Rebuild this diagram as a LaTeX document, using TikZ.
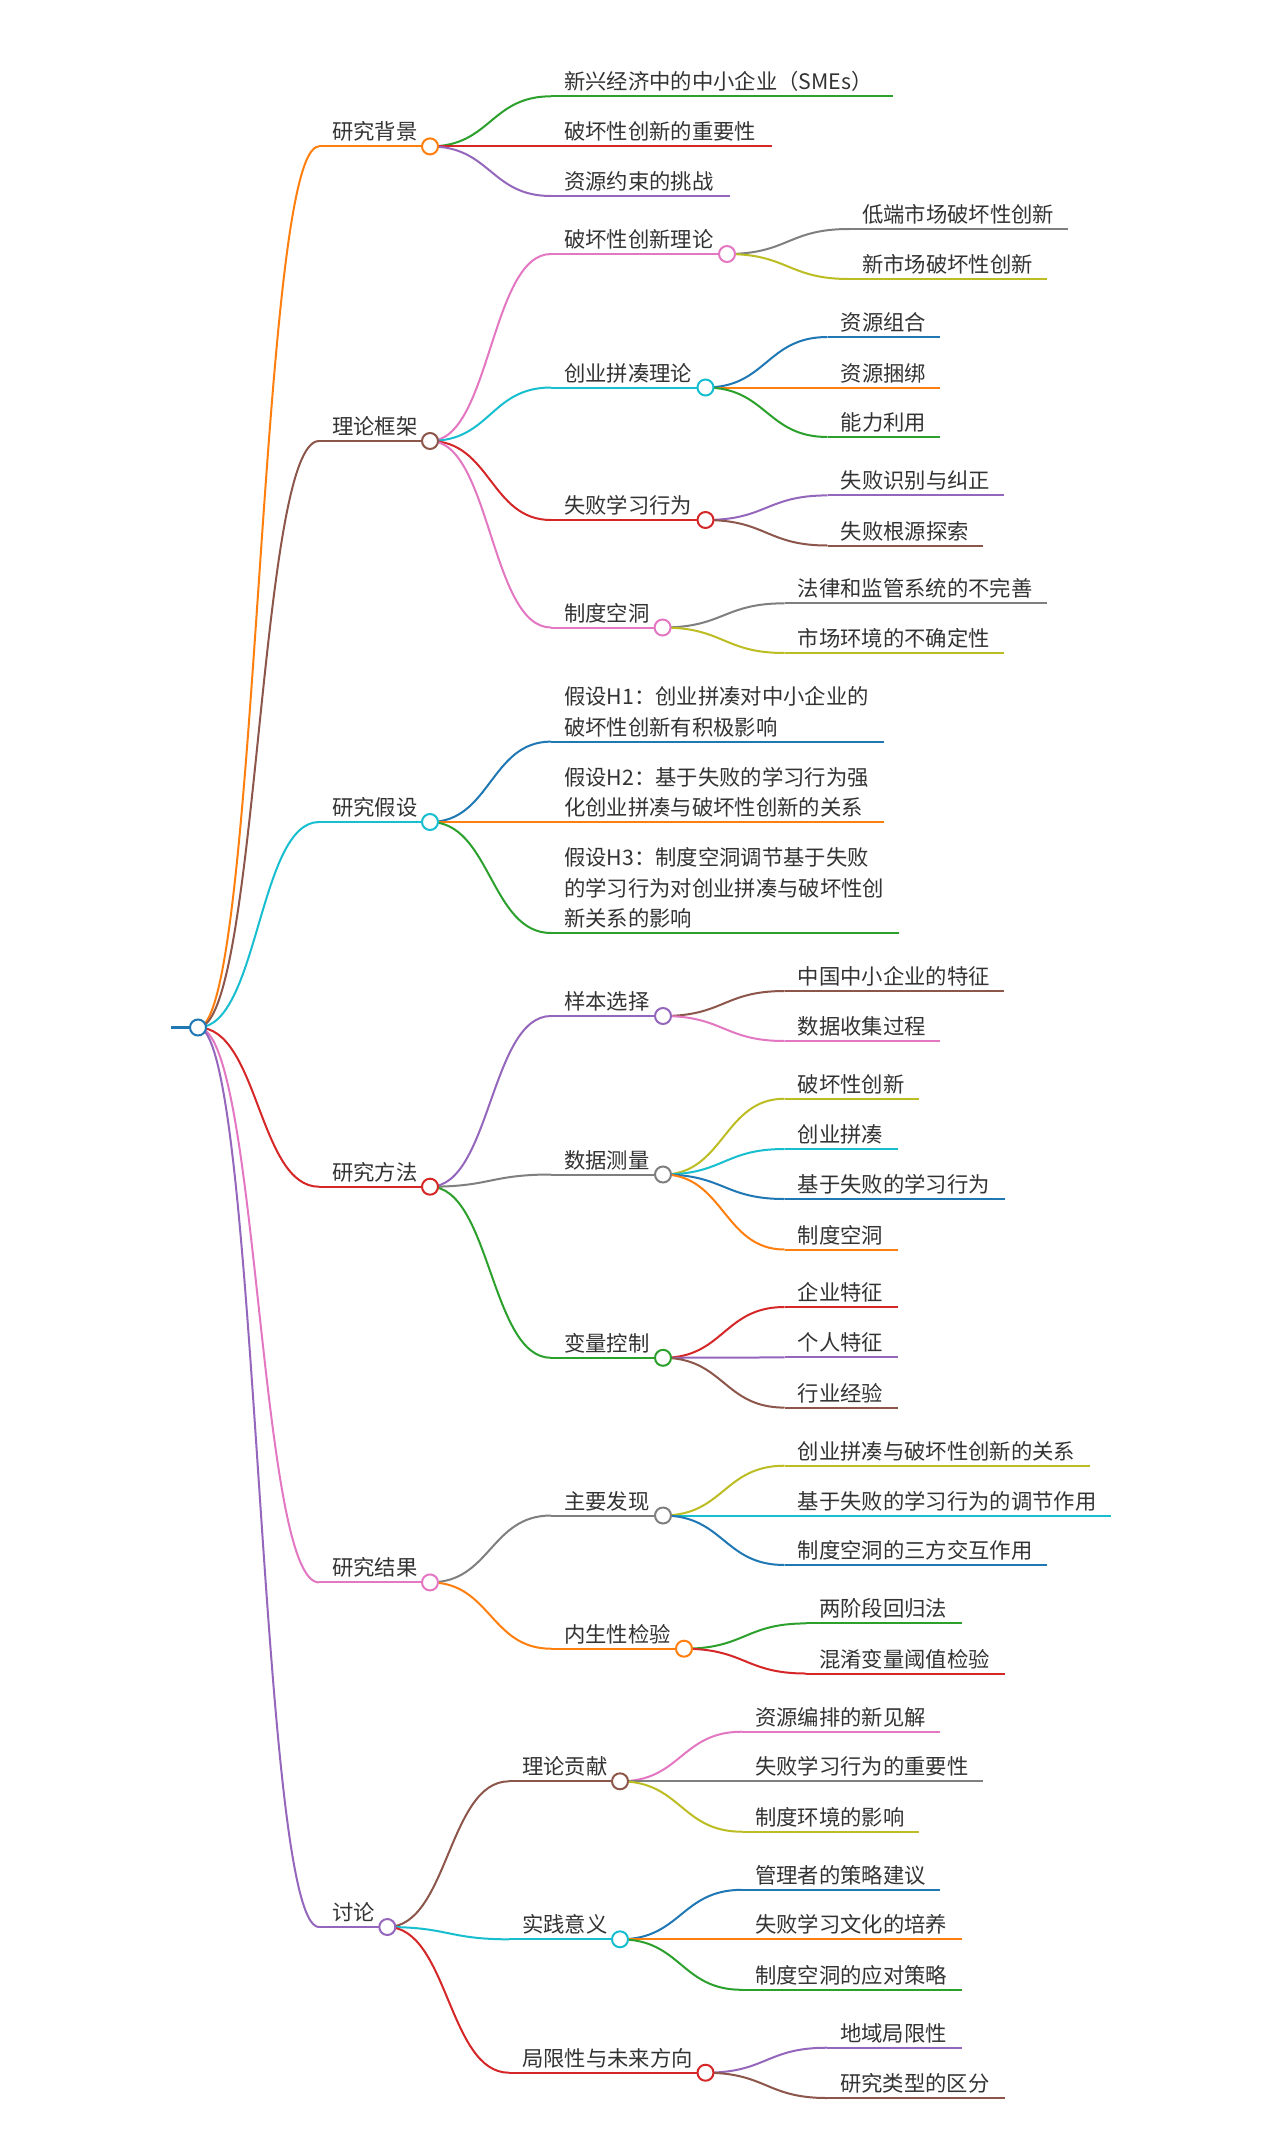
\documentclass[tikz,border=0pt]{standalone}
\usepackage{fontspec}
\setmainfont{Noto Sans CJK SC}
\usetikzlibrary{calc}
\definecolor{mmblue}{HTML}{1F77B4}
\definecolor{mmorange}{HTML}{FF7F0E}
\definecolor{mmgreen}{HTML}{2CA02C}
\definecolor{mmred}{HTML}{D62728}
\definecolor{mmpurple}{HTML}{9467BD}
\definecolor{mmbrown}{HTML}{8C564B}
\definecolor{mmpink}{HTML}{E377C2}
\definecolor{mmgray}{HTML}{7F7F7F}
\definecolor{mmolive}{HTML}{BCBD22}
\definecolor{mmcyan}{HTML}{17BECF}
\definecolor{txtc}{HTML}{333333}
\pgfdeclarelayer{back}
\pgfdeclarelayer{bg}
\pgfsetlayers{back,bg,main}
\tikzset{
  ln/.style={line width=1.5pt},
  txt/.style={inner sep=0pt, anchor=base west, text=txtc, align=left,
    font=\fontsize{16pt}{22.875pt}\selectfont},
  dot/.style={circle, fill=white, line width=1.5pt, minimum size=12pt, inner sep=0pt},
}
% link: colour, from, to
\newcommand\mmlink[3]{%
  \begin{pgfonlayer}{bg}
  \draw[ln,#1] let \p1=(#2), \p2=(#3) in
    (\p1) .. controls ({(\x1+\x2)/2},\y1) and ({(\x1+\x2)/2},\y2) .. (\p2);
  \end{pgfonlayer}}
% leaf: name, colour, parent, textx, y, endx, text
\newcommand\mmleaf[7]{%
  \coordinate (#1s) at ({#4-13},#5);
  \coordinate (#1e) at (#6,#5);
  \node[txt] (#1) at (#4,{#5-6.5}) {#7};
  \mmlink{#2}{#3}{#1s}
  \begin{pgfonlayer}{bg}\draw[ln,#2] (#1s) -- (#1e);\end{pgfonlayer}}
% branch: name, colour, parent, textx, y, circlex, text
\newcommand\mmbranch[7]{%
  \coordinate (#1s) at ({#4-13},#5);
  \node[txt] (#1) at (#4,{#5-6.5}) {#7};
  \node[dot,draw=#2] (#1c) at (#6,#5) {};
  \mmlink{#2}{#3}{#1s}
  \begin{pgfonlayer}{bg}\draw[ln,#2] (#1s) -- (#1c.center);\end{pgfonlayer}}

\begin{document}
\begin{tikzpicture}[x=0.75pt,y=-0.75pt]
\begin{pgfonlayer}{back}
\fill[white] (0,0) rectangle (1280,2152);
\end{pgfonlayer}
\useasboundingbox (0,0) rectangle (1280,2152);

% root
\coordinate (roots) at (170.5,1027.5);
\node[dot,draw=mmblue] (rootc) at (198,1027.5) {};
\begin{pgfonlayer}{bg}\draw[line width=1.75pt,mmblue] (roots) -- (rootc.center);\end{pgfonlayer}

% 研究背景
\mmbranch{A}{mmorange}{rootc}{332}{146.4}{430}{研究背景}
\mmleaf{A1}{mmgreen}{Ac}{564}{96.3}{893}{新兴经济中的中小企业（SMEs）}
\mmleaf{A2}{mmred}{Ac}{564}{146.4}{772}{破坏性创新的重要性}
\mmleaf{A3}{mmpurple}{Ac}{564}{196}{730}{资源约束的挑战}

% 理论框架
\mmbranch{B}{mmbrown}{rootc}{332}{441}{430}{理论框架}
\mmbranch{B1}{mmpink}{Bc}{564}{254}{727}{破坏性创新理论}
\mmleaf{B11}{mmgray}{B1c}{862}{229}{1068}{低端市场破坏性创新}
\mmleaf{B12}{mmolive}{B1c}{862}{279}{1047}{新市场破坏性创新}
\mmbranch{B2}{mmcyan}{Bc}{564}{387.5}{705.5}{创业拼凑理论}
\mmleaf{B21}{mmblue}{B2c}{840.5}{337}{940}{资源组合}
\mmleaf{B22}{mmorange}{B2c}{840.5}{387.5}{940}{资源捆绑}
\mmleaf{B23}{mmgreen}{B2c}{840.5}{437}{940}{能力利用}
\mmbranch{B3}{mmred}{Bc}{564}{520}{705.5}{失败学习行为}
\mmleaf{B31}{mmpurple}{B3c}{840.5}{495.4}{1004}{失败识别与纠正}
\mmleaf{B32}{mmbrown}{B3c}{840.5}{545.5}{983}{失败根源探索}
\mmbranch{B4}{mmpink}{Bc}{564}{627.5}{662.6}{制度空洞}
\mmleaf{B41}{mmgray}{B4c}{797.5}{603.3}{1047}{法律和监管系统的不完善}
\mmleaf{B42}{mmolive}{B4c}{797.5}{653}{1004}{市场环境的不确定性}

% 研究假设
\mmbranch{C}{mmcyan}{rootc}{332}{822}{430}{研究假设}
\mmleaf{C1}{mmblue}{Cc}{564}{741.6}{884}{假设H1：创业拼凑对中小企业的\\破坏性创新有积极影响}
\mmleaf{C2}{mmorange}{Cc}{564}{822}{884}{假设H2：基于失败的学习行为强\\化创业拼凑与破坏性创新的关系}
\mmleaf{C3}{mmgreen}{Cc}{564}{933}{899}{假设H3：制度空洞调节基于失败\\的学习行为对创业拼凑与破坏性创\\新关系的影响}

% 研究方法
\mmbranch{D}{mmred}{rootc}{332}{1186.7}{430}{研究方法}
\mmbranch{D1}{mmpurple}{Dc}{564}{1016}{663}{样本选择}
\mmleaf{D11}{mmbrown}{D1c}{797.5}{991}{1004}{中国中小企业的特征}
\mmleaf{D12}{mmpink}{D1c}{797.5}{1041}{940}{数据收集过程}
\mmbranch{D2}{mmgray}{Dc}{564}{1174.5}{663}{数据测量}
\mmleaf{D21}{mmolive}{D2c}{797.5}{1098.7}{919}{破坏性创新}
\mmleaf{D22}{mmcyan}{D2c}{797.5}{1149}{898}{创业拼凑}
\mmleaf{D23}{mmblue}{D2c}{797.5}{1199}{1004.6}{基于失败的学习行为}
\mmleaf{D24}{mmorange}{D2c}{797.5}{1249.5}{898}{制度空洞}
\mmbranch{D3}{mmgreen}{Dc}{564}{1357.8}{663}{变量控制}
\mmleaf{D31}{mmred}{D3c}{797.5}{1307}{898}{企业特征}
\mmleaf{D32}{mmpurple}{D3c}{797.5}{1357.4}{898}{个人特征}
\mmleaf{D33}{mmbrown}{D3c}{797.5}{1407.6}{898}{行业经验}

% 研究结果
\mmbranch{E}{mmpink}{rootc}{332}{1582.4}{430}{研究结果}
\mmbranch{E1}{mmgray}{Ec}{564}{1515.5}{663}{主要发现}
\mmleaf{E11}{mmolive}{E1c}{797.5}{1465.7}{1089.6}{创业拼凑与破坏性创新的关系}
\mmleaf{E12}{mmcyan}{E1c}{797.5}{1515.5}{1110.6}{基于失败的学习行为的调节作用}
\mmleaf{E13}{mmblue}{E1c}{797.5}{1565}{1046.7}{制度空洞的三方交互作用}
\mmbranch{E2}{mmorange}{Ec}{564}{1648.7}{684}{内生性检验}
\mmleaf{E21}{mmgreen}{E2c}{819}{1623.4}{961.8}{两阶段回归法}
\mmleaf{E22}{mmred}{E2c}{819}{1673.5}{1004.6}{混淆变量阈值检验}

% 讨论
\mmbranch{F}{mmpurple}{rootc}{332}{1927}{387.3}{讨论}
\mmbranch{F1}{mmbrown}{Fc}{522}{1781.3}{620}{理论贡献}
\mmleaf{F11}{mmpink}{F1c}{755}{1731.7}{940}{资源编排的新见解}
\mmleaf{F12}{mmgray}{F1c}{755}{1781.3}{983}{失败学习行为的重要性}
\mmleaf{F13}{mmolive}{F1c}{755}{1831.7}{919}{制度环境的影响}
\mmbranch{F2}{mmcyan}{Fc}{522}{1939.3}{620}{实践意义}
\mmleaf{F21}{mmblue}{F2c}{755}{1889.8}{940}{管理者的策略建议}
\mmleaf{F22}{mmorange}{F2c}{755}{1939.3}{962}{失败学习文化的培养}
\mmleaf{F23}{mmgreen}{F2c}{755}{1989.8}{962}{制度空洞的应对策略}
\mmbranch{F3}{mmred}{Fc}{522}{2072.7}{705.5}{局限性与未来方向}
\mmleaf{F31}{mmpurple}{F3c}{840}{2047.7}{962}{地域局限性}
\mmleaf{F32}{mmbrown}{F3c}{840}{2098}{1004.6}{研究类型的区分}
\end{tikzpicture}
\end{document}
